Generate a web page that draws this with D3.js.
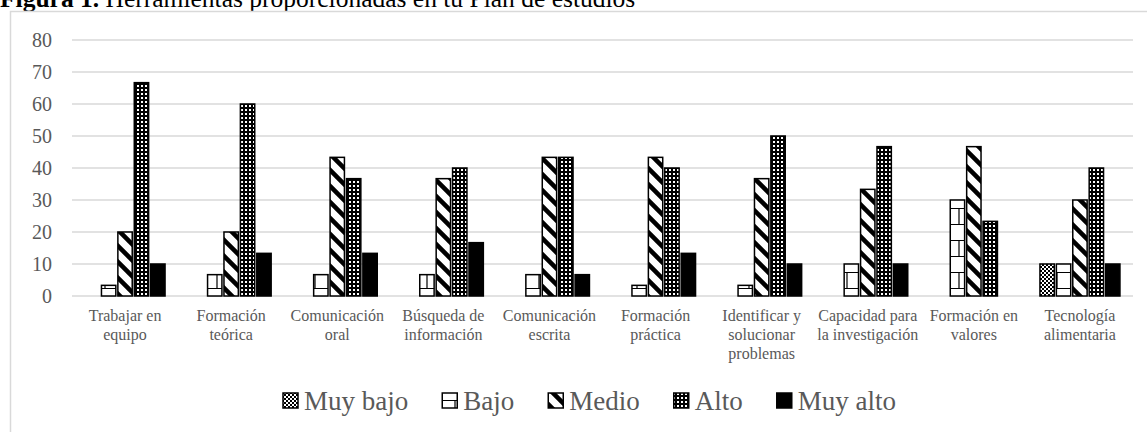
<!DOCTYPE html>
<html>
<head>
<meta charset="utf-8">
<script src="https://cdn.jsdelivr.net/npm/d3@7"></script>
<style>
  body { margin: 0; background: #fff; }
  svg { display: block; }
  text { font-family: "Liberation Serif", "Times New Roman", serif; }
</style>
</head>
<body>
<div id="chart"></div>
<script>
// --- datos ---
const categorias = [
  ["Trabajar en", "equipo"],
  ["Formación", "teórica"],
  ["Comunicación", "oral"],
  ["Búsqueda de", "información"],
  ["Comunicación", "escrita"],
  ["Formación", "práctica"],
  ["Identificar y", "solucionar", "problemas"],
  ["Capacidad para", "la investigación"],
  ["Formación en", "valores"],
  ["Tecnología", "alimentaria"]
];
const series = ["Muy bajo", "Bajo", "Medio", "Alto", "Muy alto"];
const muyBajo = [0, 0, 0, 0, 0, 0, 0, 0, 0, 10];
const bajo    = [3.33, 6.67, 6.67, 6.67, 6.67, 3.33, 3.33, 10, 30, 10];
const medio   = [20, 20, 43.33, 36.67, 43.33, 43.33, 36.67, 33.33, 46.67, 30];
const alto    = [66.67, 60, 36.67, 40, 43.33, 40, 50, 46.67, 23.33, 40];
const muyAlto = [10, 13.33, 13.33, 16.67, 6.67, 13.33, 10, 10, 0, 10];
const yTicks = [0, 10, 20, 30, 40, 50, 60, 70, 80];

const valores = [muyBajo, bajo, medio, alto, muyAlto];
const W = 1147, H = 432;
const plot = { left: 72, right: 1133, top: 40, bottom: 296 };
const gris = "#595959";

const svg = d3.select("#chart").append("svg")
  .attr("width", W).attr("height", H);

// --- tramas ---
const defs = svg.append("defs");

const pMuyBajo = defs.append("pattern").attr("id", "p0")
  .attr("patternUnits", "userSpaceOnUse").attr("width", 8).attr("height", 8);
pMuyBajo.append("rect").attr("width", 8).attr("height", 8).attr("fill", "#000");
[[0,0],[4,0],[2,2],[6,2],[0,4],[4,4],[2,6],[6,6]].forEach(([a, b]) =>
  pMuyBajo.append("rect").attr("x", a).attr("y", b).attr("width", 2).attr("height", 2).attr("fill", "#fff"));

const pBajo = defs.append("pattern").attr("id", "p1")
  .attr("patternUnits", "userSpaceOnUse").attr("width", 14).attr("height", 32);
pBajo.append("rect").attr("width", 14).attr("height", 32).attr("fill", "#fff");
pBajo.append("path").attr("d", "M0,0.5H14M0,16.5H14M7,16V32")
  .attr("stroke", "#000").attr("stroke-width", 1.2).attr("fill", "none");

const pMedio = defs.append("pattern").attr("id", "p2")
  .attr("patternUnits", "userSpaceOnUse").attr("width", 16).attr("height", 16);
pMedio.append("rect").attr("width", 16).attr("height", 16).attr("fill", "#fff");
pMedio.append("path").attr("d", "M-4,-4L20,20M-4,12L4,20M12,-4L20,4")
  .attr("stroke", "#000").attr("stroke-width", 4.5);

const pAlto = defs.append("pattern").attr("id", "p3")
  .attr("patternUnits", "userSpaceOnUse").attr("width", 4).attr("height", 4);
pAlto.append("rect").attr("width", 4).attr("height", 4).attr("fill", "#000");
pAlto.append("rect").attr("x", 1).attr("y", 1).attr("width", 2).attr("height", 2).attr("fill", "#fff");

const rellenos = ["url(#p0)", "url(#p1)", "url(#p2)", "url(#p3)", "#000"];

// --- título y marco ---
const titulo = svg.append("text").attr("x", 0).attr("y", 7)
  .attr("font-size", 25.5).attr("fill", "#000");
titulo.append("tspan").attr("font-weight", "bold").text("Figura 1.");
titulo.append("tspan").text(" Herramientas proporcionadas en tu Plan de estudios");

svg.append("rect").attr("x", 10.5).attr("y", 11.5)
  .attr("width", 1200).attr("height", 500)
  .attr("fill", "none").attr("stroke", "#d9d9d9").attr("stroke-width", 1.5);

// --- escalas ---
const y = d3.scaleLinear().domain([0, 80]).range([plot.bottom, plot.top]);
const x0 = d3.scaleBand().domain(d3.range(categorias.length))
  .range([plot.left, plot.right]);
const grupo = 80;
const x1 = d3.scaleBand().domain(series).range([0, grupo]).paddingInner(0.125);
const desfase = (x0.bandwidth() - grupo) / 2;

// rejilla
svg.append("g").selectAll("line").data(yTicks).join("line")
  .attr("x1", plot.left).attr("x2", plot.right)
  .attr("y1", d => y(d)).attr("y2", d => y(d))
  .attr("stroke", "#d9d9d9").attr("stroke-width", 1.5);

// eje y
svg.append("g").selectAll("text").data(yTicks).join("text")
  .attr("x", 52).attr("y", d => y(d))
  .attr("dy", "0.35em").attr("text-anchor", "end")
  .attr("font-size", 20).attr("fill", gris)
  .text(d => d);

// barras
series.forEach((s, si) => {
  svg.append("g").selectAll("rect")
    .data(valores[si].map((v, i) => ({ v, i })).filter(d => d.v > 0))
    .join("rect")
    .attr("x", d => x0(d.i) + desfase + x1(s))
    .attr("y", d => y(d.v))
    .attr("width", x1.bandwidth())
    .attr("height", d => y(0) - y(d.v))
    .attr("fill", rellenos[si])
    .attr("stroke", "#000").attr("stroke-width", 1.5);
});

// etiquetas x
const etiquetas = svg.append("g").selectAll("text").data(categorias).join("text")
  .attr("x", (d, i) => x0(i) + x0.bandwidth() / 2)
  .attr("y", 321)
  .attr("text-anchor", "middle")
  .attr("font-size", 16).attr("fill", gris);
etiquetas.each(function(d, i) {
  const t = d3.select(this);
  d.forEach((linea, k) => {
    t.append("tspan").attr("x", x0(i) + x0.bandwidth() / 2)
      .attr("dy", k === 0 ? 0 : 19).text(linea);
  });
});

// leyenda
let lx = 283;
series.forEach((s, si) => {
  svg.append("rect").attr("x", lx).attr("y", 393)
    .attr("width", 15).attr("height", 15)
    .attr("fill", rellenos[si]).attr("stroke", "#000").attr("stroke-width", 1.5);
  const t = svg.append("text").attr("x", lx + 21).attr("y", 410)
    .attr("font-size", 27).attr("fill", gris).text(s);
  lx += 21 + t.node().getComputedTextLength() + 34;
});
</script>
</body>
</html>
